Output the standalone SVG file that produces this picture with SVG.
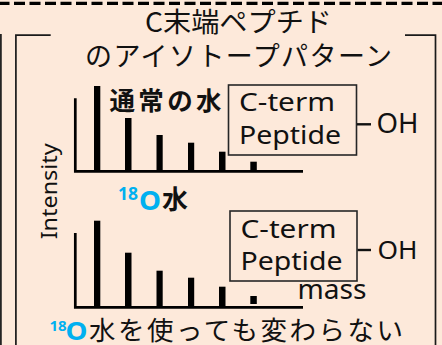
<svg xmlns="http://www.w3.org/2000/svg" width="442" height="345" viewBox="0 0 442 345">
<style>
.frame{fill:none;stroke:#1a1a1a;stroke-width:1.7}
.axis{fill:none;stroke:#000;stroke-width:2.7}
.bar{fill:#000}
.box{fill:none;stroke:#262626;stroke-width:1.6}
.lat{font-family:"Noto Sans","Open Sans","DejaVu Sans",sans-serif;fill:#111}
.jp{font-family:"Noto Sans CJK JP","Noto Sans",sans-serif;fill:#111}
.cyan{fill:#00B0F0}
.conn{stroke:#111;stroke-width:2.4;fill:none}
</style>
<rect x="0" y="0" width="442" height="345" fill="#FDE9DA"/>
<g id="frame">
<line x1="0" y1="3.3" x2="442" y2="3.3" stroke="#000" stroke-width="3.3" stroke-dasharray="11 4.5" stroke-dashoffset="1.5"/>
<line class="frame" x1="0.9" y1="34" x2="0.9" y2="345"/>
<polyline class="frame" points="50.7,35.2 15.9,35.2 15.9,345"/>
<polyline class="frame" points="405,35.2 435.5,35.2 435.5,345"/>
</g>
<g id="title">
<text class="jp" x="145" y="31.5" font-size="27" textLength="187" lengthAdjust="spacingAndGlyphs">C末端ペプチド</text>
<text class="jp" x="85" y="65.5" font-size="27" textLength="307" lengthAdjust="spacing">のアイソトープパターン</text>
</g>
<g id="intensity">
<text class="lat" transform="translate(56.7,239.3) rotate(-90)" font-size="21" textLength="96" lengthAdjust="spacingAndGlyphs">Intensity</text>
</g>
<g id="chart1">
<polyline class="axis" points="75.3,98.3 75.3,171.3 303,171.3"/>
<rect class="bar" x="94" y="86" width="6.3" height="85"/>
<rect class="bar" x="125" y="118" width="6.5" height="53"/>
<rect class="bar" x="156.5" y="135" width="6.2" height="36"/>
<rect class="bar" x="188" y="142.7" width="6.2" height="28.3"/>
<rect class="bar" x="219" y="151.7" width="6.5" height="19.3"/>
<rect class="bar" x="250.3" y="161.7" width="6.5" height="9.3"/>
</g>
<g id="label-normal">
<text class="jp" x="109.5" y="110" font-size="25.5" font-weight="bold" textLength="112" lengthAdjust="spacing">通常の水</text>
</g>
<g id="box1">
<rect class="box" x="228.5" y="85" width="128" height="70"/>
<text class="lat" x="239" y="111" font-size="26" textLength="96" lengthAdjust="spacingAndGlyphs">C-term</text>
<text class="lat" x="239" y="144" font-size="26" textLength="102" lengthAdjust="spacingAndGlyphs">Peptide</text>
</g>
<g id="oh1">
<text class="lat" x="376.5" y="133.3" font-size="27" textLength="42" lengthAdjust="spacingAndGlyphs">OH</text>
</g>
<g id="label-18o">
<text x="118" y="200" font-family="Noto Sans, sans-serif" font-size="17.5" font-weight="bold" class="cyan">18</text>
<text x="139" y="209.5" font-family="Noto Sans, sans-serif" font-size="26.5" font-weight="bold" class="cyan" textLength="22" lengthAdjust="spacingAndGlyphs">O</text>
<text class="jp" x="162" y="209" font-size="26" font-weight="bold">水</text>
</g>
<g id="chart2">
<polyline class="axis" points="75.3,233 75.3,307.3 303,307.3"/>
<rect class="bar" x="94" y="220.7" width="6.3" height="86.6"/>
<rect class="bar" x="125" y="252.7" width="6.5" height="54.6"/>
<rect class="bar" x="156.5" y="270.7" width="6.2" height="36.6"/>
<rect class="bar" x="188" y="277.7" width="6.2" height="29.6"/>
<rect class="bar" x="219" y="286.7" width="6.5" height="20.6"/>
<rect class="bar" x="250.3" y="296" width="6.5" height="8"/>
</g>
<g id="box2">
<rect class="box" x="230" y="211" width="127" height="70"/>
<text class="lat" x="240.5" y="237.5" font-size="26" textLength="96" lengthAdjust="spacingAndGlyphs">C-term</text>
<text class="lat" x="240.5" y="270" font-size="26" textLength="102" lengthAdjust="spacingAndGlyphs">Peptide</text>
</g>
<g id="oh2">
<text class="lat" x="377.5" y="259.3" font-size="26" textLength="40" lengthAdjust="spacingAndGlyphs">OH</text>
</g>
<g id="mass">
<text class="lat" x="297.5" y="299.3" font-size="27" textLength="69" lengthAdjust="spacingAndGlyphs">mass</text>
</g>
<g id="caption">
<text x="49.5" y="331" font-family="Noto Sans, sans-serif" font-size="15" font-weight="bold" class="cyan">18</text>
<text x="65.5" y="340" font-family="Noto Sans, sans-serif" font-size="24.5" font-weight="bold" class="cyan" textLength="22" lengthAdjust="spacingAndGlyphs">O</text>
<text class="jp" x="89" y="339.5" font-size="26.5" textLength="314" lengthAdjust="spacing">水を使っても変わらない</text>
</g>
<g id="connectors">
<line class="conn" x1="357" y1="124.3" x2="371" y2="124.3"/>
<line class="conn" x1="357.5" y1="250" x2="371" y2="250"/>
</g>
</svg>
